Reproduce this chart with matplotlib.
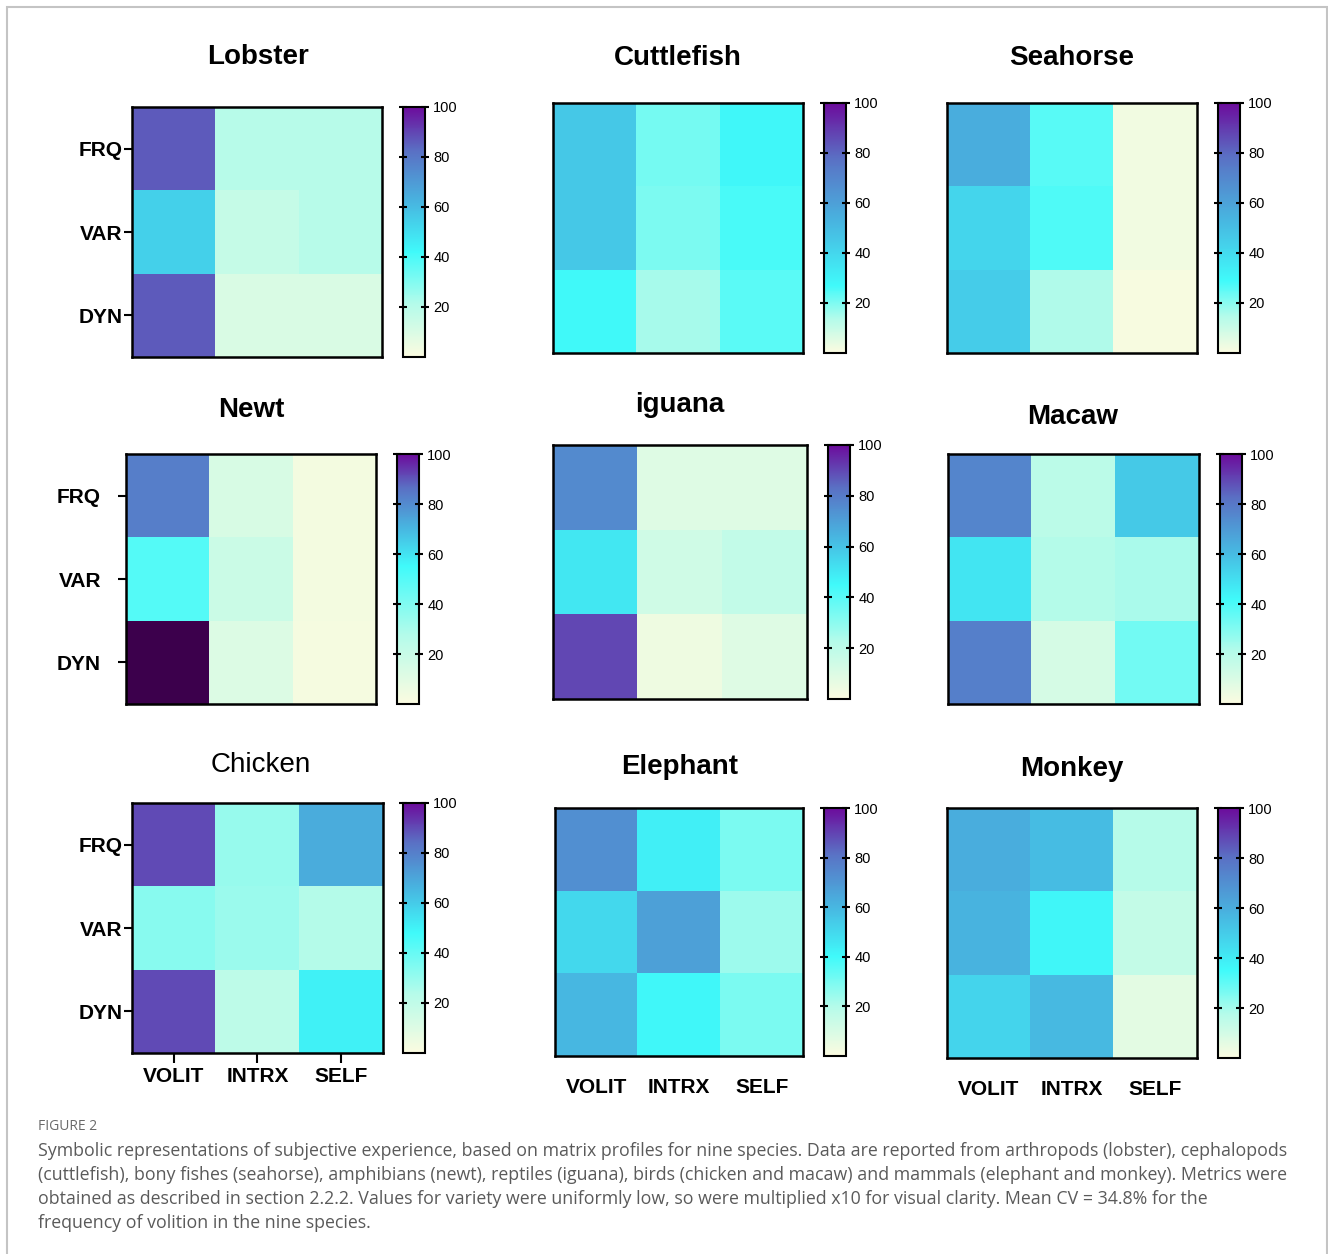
import matplotlib
matplotlib.use("Agg")
import matplotlib.pyplot as plt
import numpy as np
from matplotlib.colors import LinearSegmentedColormap
from matplotlib.patches import Rectangle

W, H = 1328, 1254
fig = plt.figure(figsize=(W / 100, H / 100), dpi=100)

rows = ["FRQ", "VAR", "DYN"]
cols = ["VOLIT", "INTRX", "SELF"]

species = ["Lobster", "Cuttlefish", "Seahorse",
           "Newt", "iguana", "Macaw",
           "Chicken", "Elephant", "Monkey"]

lobster = [[86, 20, 20], [54, 16, 20], [86, 10, 10]]
cuttlefish = [[45, 21, 28], [45, 20, 26], [27, 15, 24]]
seahorse = [[56, 26, 2], [42, 27, 2], [45, 15, 1]]
newt = [[83, 14, 3], [50, 19, 3], [120, 12, 2]]
iguana = [[76, 9, 9], [50, 14, 18], [90, 4, 9]]
macaw = [[76, 19, 56], [48, 21, 23], [78, 11, 33]]
chicken = [[90, 30, 68], [33, 29, 24], [90, 21, 50]]
elephant = [[72, 43, 30], [50, 67, 24], [60, 41, 30]]
monkey = [[60, 55, 17], [58, 36, 14], [47, 56, 6]]
values = [lobster, cuttlefish, seahorse, newt, iguana, macaw,
          chicken, elephant, monkey]

# where the bright cyan sits on each panel's colour bar
cyan_pos = [0.42, 0.27, 0.29, 0.55, 0.45, 0.42, 0.48, 0.40, 0.35]

cbar_ticks = [20, 40, 60, 80, 100]


def make_cmap(c):
    stops = [(0.0, "#fbfbe0"), (c * 0.5, "#b4fbea"), (c, "#40fafa"),
             (c + (1 - c) * 0.35, "#48b4e0"), (c + (1 - c) * 0.7, "#5a70c4"),
             (1.0, "#6c0c9c")]
    cm = LinearSegmentedColormap.from_list("m", stops)
    cm.set_over("#3c004c")
    return cm


# pixel boxes: heatmap (left, top, w, h), colour bar left, title centre
boxes = [(132, 107, 250, 250, 403, 258, 57),
         (553, 103, 250, 250, 824, 678, 58),
         (947, 103, 250, 250, 1218, 1072, 58),
         (126, 454, 250, 250, 397, 251, 410),
         (553, 445, 254, 254, 828, 680, 405),
         (948, 454, 251, 250, 1220, 1073, 417),
         (132, 803, 251, 250, 403, 261, 765),
         (555, 808, 248, 248, 824, 680, 767),
         (947, 808, 250, 250, 1218, 1072, 769)]


def fx(x):
    return x / W


def fy(y):
    return 1 - y / H


sans = ["Liberation Sans", "DejaVu Sans"]

for i, name in enumerate(species):
    l, t, w, h, cl, tx, ty = boxes[i]
    ax = fig.add_axes([fx(l), fy(t + h), w / W, h / H])
    cm = make_cmap(cyan_pos[i])
    im = ax.imshow(np.array(values[i]), cmap=cm, vmin=0, vmax=100,
                   aspect="auto", interpolation="nearest")
    for s in ax.spines.values():
        s.set_linewidth(1.8)
    ax.set_xticks([])
    ax.set_yticks([])
    if i % 3 == 0:
        ax.set_yticks(range(3))
        ax.set_yticklabels(rows, fontsize=15, fontweight="bold", family=sans)
        pad = 12 if i == 3 else 1
        ax.tick_params(axis="y", length=6, width=1.5, pad=pad)
    if i >= 6:
        ax.set_xticks(range(3))
        ax.set_xticklabels(cols, fontsize=15, fontweight="bold", family=sans)
        if i == 6:
            ax.tick_params(axis="x", length=7, width=1.5, pad=3)
        else:
            ax.tick_params(axis="x", length=0, pad=16)

    cax = fig.add_axes([fx(cl), fy(t + h), 22 / W, h / H])
    cb = fig.colorbar(im, cax=cax, ticks=cbar_ticks)
    cb.outline.set_linewidth(1.5)
    cax.tick_params(axis="y", direction="inout", length=6, width=1.5,
                    left=True, right=True, labelsize=10.5, pad=3)
    for lab in cax.get_yticklabels():
        lab.set_family(sans)

    weight = "normal" if name == "Chicken" else "bold"
    fig.text(fx(tx), fy(ty), name, ha="center", va="center", fontsize=20,
             fontweight=weight, family=sans)

# frame round the figure
fig.patches.append(Rectangle((fx(7), fy(1262)), (1327 - 7) / W, (1262 - 7) / H,
                             transform=fig.transFigure, fill=False,
                             edgecolor="#c4c4c4", linewidth=1.5))

caption = [
    "Symbolic representations of subjective experience, based on matrix profiles for nine species. Data are reported from arthropods (lobster), cephalopods",
    "(cuttlefish), bony fishes (seahorse), amphibians (newt), reptiles (iguana), birds (chicken and macaw) and mammals (elephant and monkey). Metrics were",
    "obtained as described in section 2.2.2. Values for variety were uniformly low, so were multiplied x10 for visual clarity. Mean CV = 34.8% for the",
    "frequency of volition in the nine species.",
]
fig.text(fx(38), fy(1127), "FIGURE 2", ha="left", va="center", fontsize=10,
         color="#6a6a6a", family=["Open Sans", "DejaVu Sans"])
for k, line in enumerate(caption):
    fig.text(fx(38), fy(1151 + 24 * k), line, ha="left", va="center",
             fontsize=12.75, color="#5a5a5a", family=["Open Sans", "DejaVu Sans"])

fig.savefig("out.png", dpi=100)
